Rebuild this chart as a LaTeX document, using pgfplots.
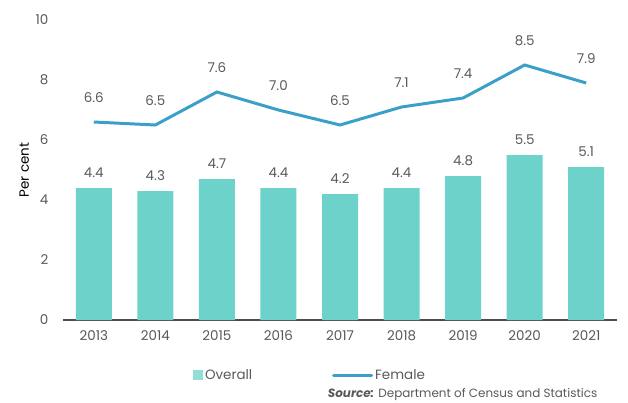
\documentclass[border=0pt]{standalone}
\usepackage{pgfplots}
\pgfplotsset{compat=1.18}
\usepackage{fontspec}
\setmainfont{Poppins}
\definecolor{barc}{HTML}{6DD3CA}
\definecolor{linec}{HTML}{3AA0C8}
\definecolor{txt}{HTML}{595959}
\newcommand{\ff}{\fontsize{13.5}{16}\selectfont}
\begin{document}
\begin{tikzpicture}[x=1bp,y=1bp]
\ff
\path[use as bounding box] (0,0) rectangle (628,402);
\begin{axis}[
  at={(63bp,82bp)}, anchor=south west,
  scale only axis, width=554bp, height=300bp,
  xmin=-0.5, xmax=8.5, ymin=0, ymax=10,
  xtick={0,...,8},
  xticklabels={2013,2014,2015,2016,2017,2018,2019,2020,2021},
  ytick={0,2,4,6,8,10},
  axis x line*=bottom, axis y line*=left,
  x axis line style={draw=txt!85!black, line width=1.5pt, -},
  y axis line style={draw=none},
  major tick length=0pt,
  tick label style={text=txt, font=\ff},
  /pgf/number format/assume math mode=true,
  xticklabel style={yshift=-6bp},
  yticklabel style={xshift=-10bp},
  ylabel={Per cent}, ylabel style={text=txt, font=\ff},
  every axis y label/.style={at={(-0.07,0.5)}, rotate=90, anchor=center},
  legend style={at={(0.229,-0.15)}, anchor=north west, draw=none, fill=none,
    font=\ff, text=txt, legend columns=2,
    /tikz/every even column/.append style={column sep=78bp}},
  legend cell align=left,
  clip=false,
]
\addplot[ybar, bar width=36bp, fill=barc, draw=none, area legend,
  legend image code/.code={\fill[barc!75!white] (0bp,-5bp) rectangle (10bp,5bp);},
  nodes near coords, nodes near coords style={text=txt, font=\ff, yshift=6bp},
  point meta=explicit symbolic]
  coordinates {(0,4.4)[4.4] (1,4.3)[4.3] (2,4.7)[4.7] (3,4.4)[4.4] (4,4.2)[4.2] (5,4.4)[4.4] (6,4.8)[4.8] (7,5.5)[5.5] (8,5.1)[5.1]};
\addlegendentry{Overall}
\addplot[linec, line width=3pt, mark=none,
  legend image code/.code={\draw[linec, line width=3pt, line cap=round] (0bp,0bp) -- (38bp,0bp);},
  nodes near coords, nodes near coords style={text=txt, font=\ff, yshift=13bp},
  point meta=explicit symbolic]
  coordinates {(0,6.6)[6.6] (1,6.5)[6.5] (2,7.6)[7.6] (3,7.0)[7.0] (4,6.5)[6.5] (5,7.1)[7.1] (6,7.4)[7.4] (7,8.5)[8.5] (8,7.9)[7.9]};
\addlegendentry{Female}
\end{axis}
\node[anchor=east, text=txt, font=\fontsize{12}{14}\selectfont] at (602bp,8bp) {\textbf{\textit{Source:}} Department of Census and Statistics};
\end{tikzpicture}
\end{document}
